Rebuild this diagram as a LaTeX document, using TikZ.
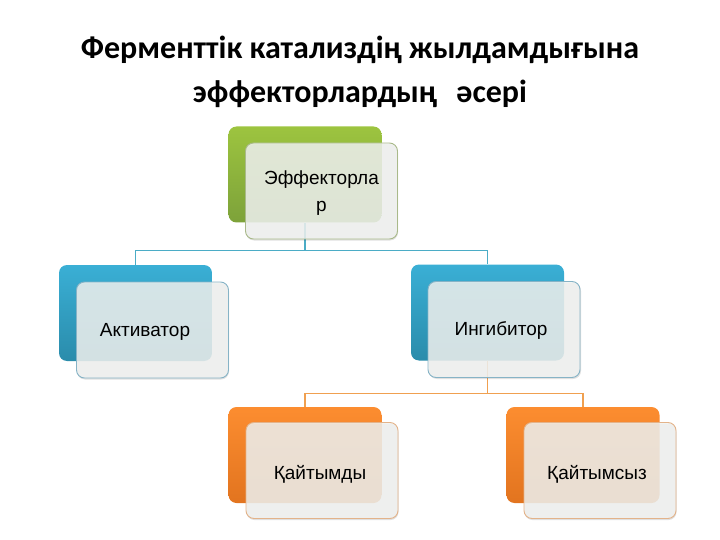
\documentclass[tikz,border=0pt]{standalone}
\usepackage{fontspec}
\setmainfont{Carlito}
\newfontfamily\boxfont{Liberation Sans}
\definecolor{gTop}{HTML}{9DC43F}
\definecolor{gBot}{HTML}{7DA23A}
\definecolor{bTop}{HTML}{3AAFD5}
\definecolor{bBot}{HTML}{2A8CAB}
\definecolor{oTop}{HTML}{FC8D30}
\definecolor{oBot}{HTML}{E2741F}
\definecolor{gEdge}{HTML}{A9B98A}
\definecolor{bEdge}{HTML}{86B3C6}
\definecolor{oEdge}{HTML}{E3B38A}
\definecolor{gLine}{HTML}{4BACC6}
\definecolor{oLine}{HTML}{F0A050}
\definecolor{frontFill}{HTML}{F0F2F0}
\tikzset{
  backbox/.style={rounded corners=8pt, minimum width=153pt, minimum height=96pt, inner sep=0pt},
  frontbox/.style={rounded corners=8pt, minimum width=152pt, minimum height=96pt, inner sep=0pt,
     fill=frontFill, fill opacity=0.86, line width=0.9pt},
  boxlabel/.style={font=\boxfont\fontsize{19}{27}\selectfont, align=center, inner sep=0pt},
  shadowbox/.style={rounded corners=8pt, minimum width=152pt, minimum height=96pt, inner sep=0pt,
     fill=black, fill opacity=0.12},
  conn/.style={line width=1.3pt},
  titletext/.style={font=\bfseries\fontsize{32}{36}\selectfont}
}
\begin{document}
\begin{tikzpicture}[x=1pt,y=-1pt]
\useasboundingbox (0,0) rectangle (720,540);
% title
\node[titletext] (t1) at (360,50) {Ферменттік катализдің жылдамдығына};
\node[titletext] (t2) at (360,94) {эффекторлардың\hspace{0.6em}әсері};
% back boxes
\node[backbox, top color=gTop, bottom color=gBot] (eb) at (305,174.5) {};
\node[backbox, top color=bTop, bottom color=bBot] (ab) at (135.5,313) {};
\node[backbox, top color=bTop, bottom color=bBot] (ib) at (487.5,312.5) {};
\node[backbox, top color=oTop, bottom color=oBot] (kb) at (305,455) {};
\node[backbox, top color=oTop, bottom color=oBot] (sb) at (583,455) {};
% connectors
\draw[conn, gLine] (eb.south) -- ++(0,28) -| (ab.north);
\draw[conn, gLine] (eb.south) ++(0,28) -| (ib.north);
\draw[conn, oLine] (ib.south) -- ++(0,33) -| (kb.north);
\draw[conn, oLine] (ib.south) ++(0,33) -| (sb.north);
% shadows
\node[shadowbox] (es) at (322,192.5) {};
\node[shadowbox] (as) at (153,331.5) {};
\node[shadowbox] (is) at (505,331) {};
\node[shadowbox] (ks) at (322.5,472) {};
\node[shadowbox] (ss) at (600.5,472) {};
% front boxes
\node[frontbox, draw=gEdge] (ef) at (321.5,191) {};
\node[frontbox, draw=bEdge] (af) at (152.5,330) {};
\node[frontbox, draw=bEdge] (if) at (504,329.5) {};
\node[frontbox, draw=oEdge] (kf) at (322,470.5) {};
\node[frontbox, draw=oEdge] (sf) at (600,470.5) {};
% labels
\node[boxlabel] (el) at (321.5,193) {Эффекторла\\р};
\node[boxlabel] (al) at (145,332) {Активатор};
\node[boxlabel] (il) at (501,331) {Ингибитор};
\node[boxlabel] (kl) at (320,474) {Қайтымды};
\node[boxlabel] (sl) at (597,474) {Қайтымсыз};
\end{tikzpicture}
\end{document}
